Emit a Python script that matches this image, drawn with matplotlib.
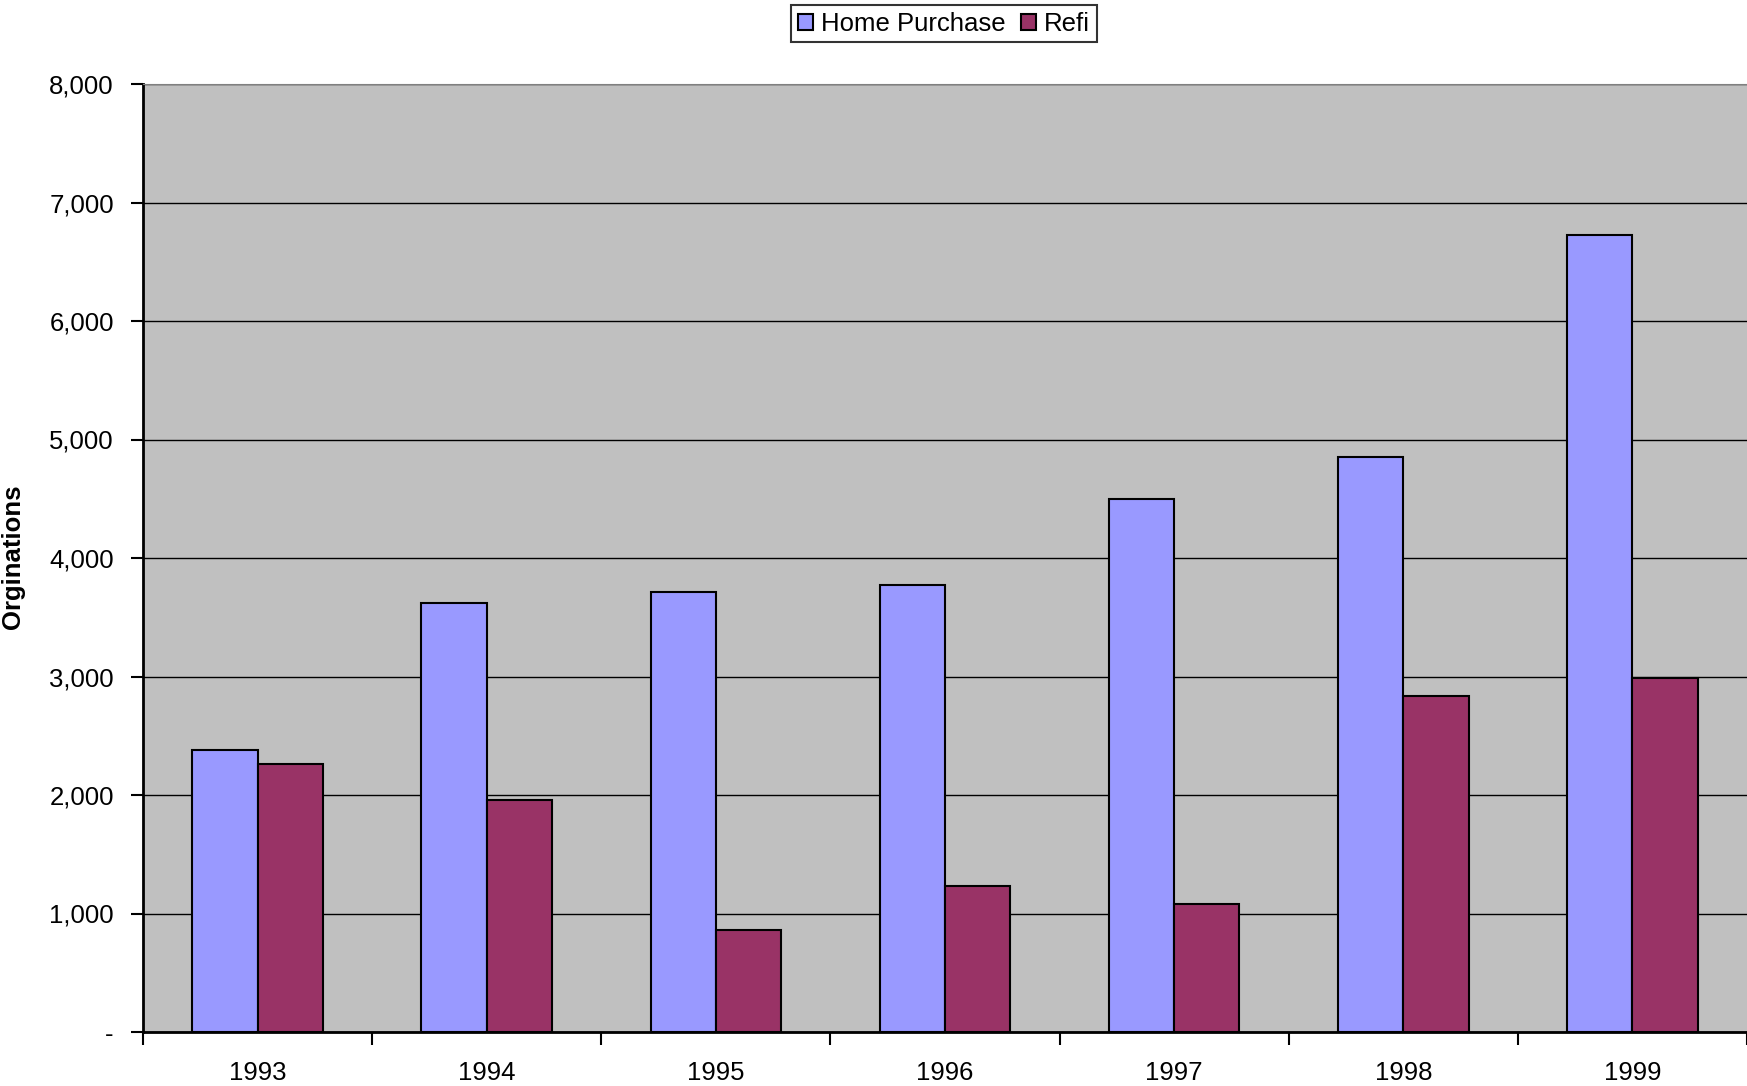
import numpy as np
import matplotlib; matplotlib.use('Agg')
import matplotlib.pyplot as plt
from matplotlib.ticker import FuncFormatter, FixedLocator

plt.rcParams['font.family'] = ['Liberation Sans', 'DejaVu Sans']

# data
years = ['1993', '1994', '1995', '1996', '1997', '1998', '1999']
home_purchase = [2376, 3624, 3709, 3775, 4498, 4854, 6723]
refi = [2263, 1962, 864, 1230, 1080, 2836, 2986]

fig = plt.figure(figsize=(17.47, 10.86), dpi=100)
ax = fig.add_axes([143/1747, 1 - 1032/1086, 1 - 143/1747, (1032 - 84)/1086])
ax.set_facecolor('#c0c0c0')

x = np.arange(len(years))
w = 0.285
ax.bar(x - w/2, home_purchase, w, color='#9999ff', edgecolor='black', linewidth=1.5,
       label='Home Purchase', zorder=3)
ax.bar(x + w/2, refi, w, color='#993366', edgecolor='black', linewidth=1.5,
       label='Refi', zorder=3)

ax.set_xlim(-0.5, len(years) - 0.5)
ax.set_ylim(0, 8000)
ax.set_yticks(np.arange(0, 8001, 1000))
ax.yaxis.set_major_formatter(FuncFormatter(lambda v, p: '-' if v == 0 else f'{int(v):,}'))
ax.grid(axis='y', color='black', linewidth=1, zorder=1)

ax.set_xticks(x)
ax.set_xticklabels(years)
ax.xaxis.set_minor_locator(FixedLocator(np.arange(-0.5, len(years), 1.0)))
ax.tick_params(axis='x', which='major', length=0, labelsize=18.5, pad=21)
ax.tick_params(axis='x', which='minor', length=9, width=1.5, direction='out')
ax.tick_params(axis='y', length=9, width=1.5, direction='out', labelsize=18.5, pad=12)

for s in ['left', 'bottom']:
    ax.spines[s].set_linewidth(2)
ax.spines['top'].set_color('#808080')
ax.spines['right'].set_visible(False)

# y label placed by hand so it stays inside the figure
fig.text(13/1747, 1 - 557/1086, 'Orginations', rotation=90, ha='center', va='center',
         fontsize=18.5, fontweight='bold')

fig.legend(loc='upper center', bbox_to_anchor=(944/1747, 0.995), ncol=2,
           fontsize=18.5, frameon=True, fancybox=False, edgecolor='black',
           handlelength=0.6, handleheight=0.6, handletextpad=0.3, columnspacing=0.6,
           borderpad=0.25, borderaxespad=0)
leg = fig.legends[0]
leg.get_frame().set_linewidth(1.5)

fig.savefig('out.png', dpi=100)
